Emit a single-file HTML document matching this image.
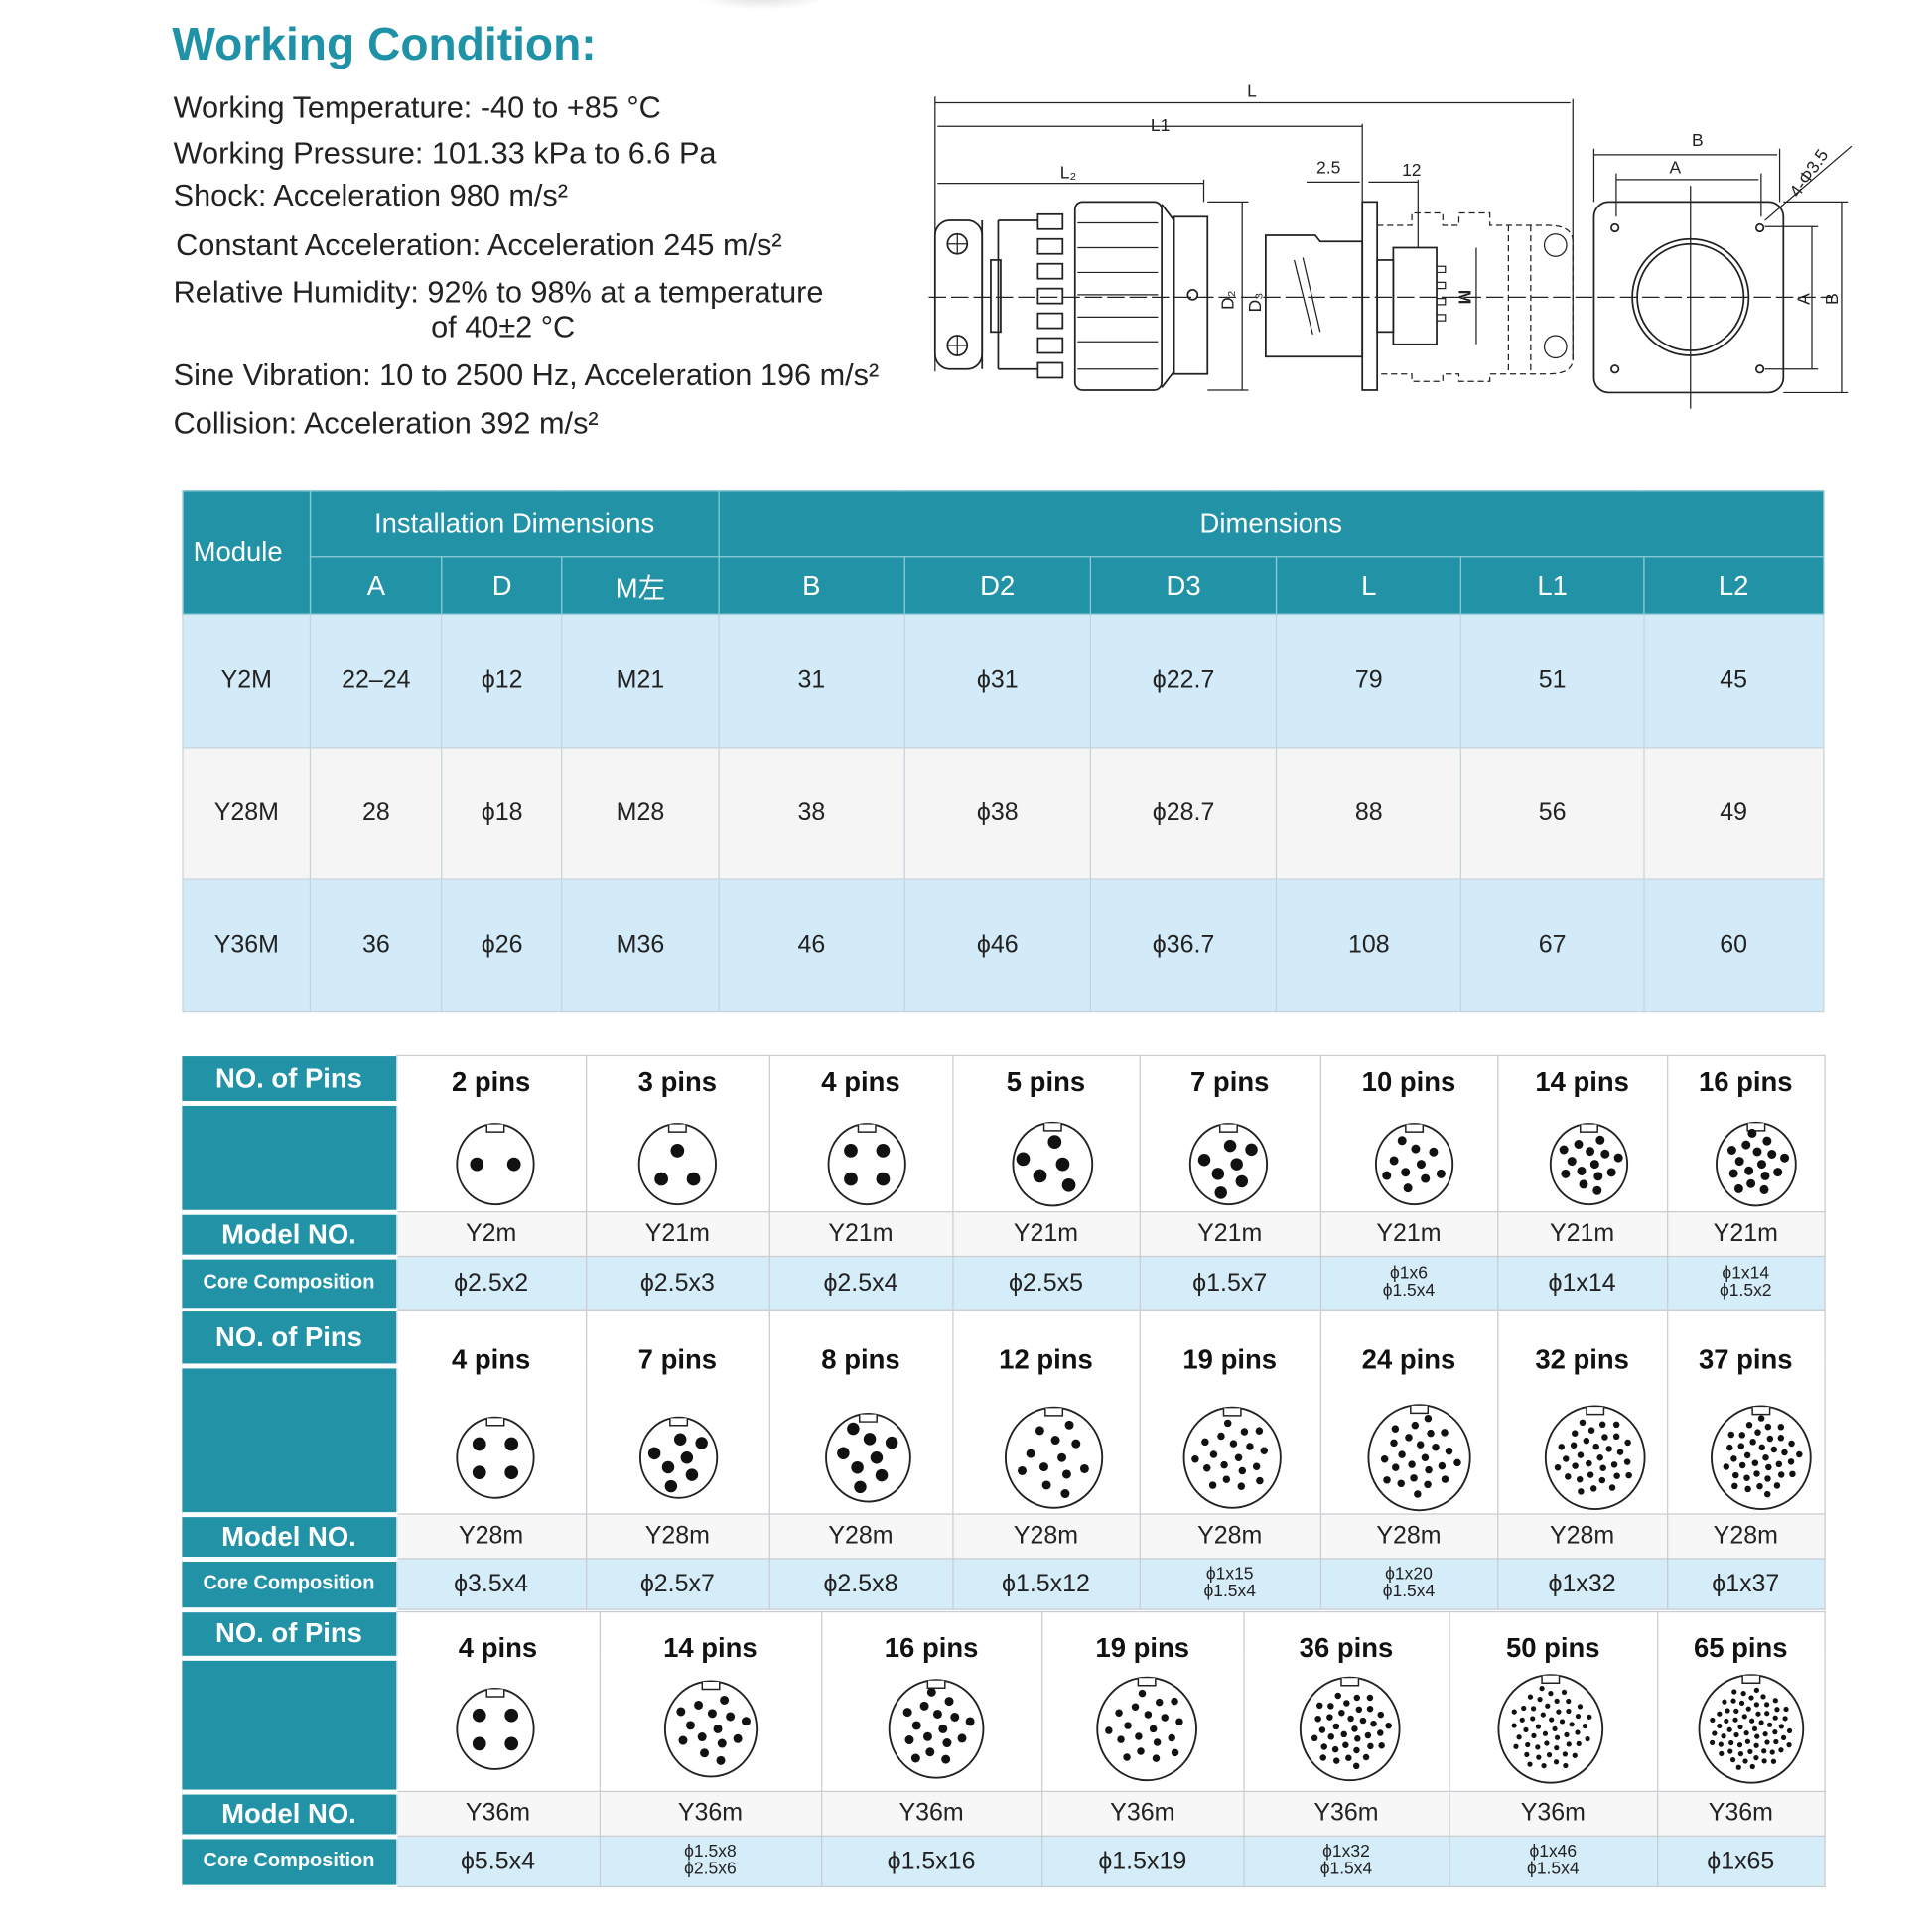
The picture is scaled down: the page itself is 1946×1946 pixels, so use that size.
<!DOCTYPE html>
<html><head><meta charset="utf-8">
<style>
html,body{margin:0;padding:0;background:#fff;}
body{width:1946px;height:1946px;overflow:hidden;position:relative;}
#w{position:absolute;left:0;top:0;width:1560px;height:1560px;transform:scale(1.24744);transform-origin:0 0;font-family:"Liberation Sans","Noto Sans CJK SC",sans-serif;}
.a{position:absolute;white-space:nowrap;}
.t{font-size:24.6px;color:#222;}
table{position:absolute;border-collapse:collapse;table-layout:fixed;}
td{padding:0;text-align:center;vertical-align:middle;}
#t1 td{font-size:20px;color:#222;border:1px solid #c5d3dc;}
#t1 .h{background:#2293a7;color:#fff;font-size:22px;border:1px solid #8ccad6;}
#t1 .r1 td{background:#d3ebf8;}
#t1 .r2 td{background:#f5f5f5;}
#t1 .r3 td{background:#d3ebf8;}
.p td{border:1px solid #c9ccd0;font-size:20px;color:#222;}
.p td.l{background:#2293a7;color:#fff;font-weight:bold;font-size:22px;border:none;border-bottom:4px solid #fff;}
.p td.cc{font-size:16px;}
.p td.pt{font-weight:bold;font-size:22px;color:#111;vertical-align:top;background:#fff;}
.p tr.m td{background:#f7f7f7;}
.p tr.m td.l{background:#2293a7;}
.p tr.c td{background:#d5ecf9;}
.p tr.c td.l{background:#2293a7;}
.sm{font-size:14px;line-height:14px;display:inline-block;}
</style></head><body>
<div id="w">
<div class="a" style="left:560px;top:-14px;width:110px;height:22px;border-radius:50%;background:radial-gradient(#ddd,#fff 70%);"></div>
<div class="a" style="left:139px;top:15px;font-size:37px;font-weight:bold;color:#2092a8;">Working Condition:</div>
<div class="a t" style="left:140px;top:74px;">Working Temperature: -40 to +85 °C</div>
<div class="a t" style="left:140px;top:111px;">Working Pressure: 101.33 kPa to 6.6 Pa</div>
<div class="a t" style="left:140px;top:145px;">Shock: Acceleration 980 m/s²</div>
<div class="a t" style="left:142px;top:185px;">Constant Acceleration: Acceleration 245 m/s²</div>
<div class="a t" style="left:140px;top:223px;">Relative Humidity: 92% to 98% at a temperature</div>
<div class="a t" style="left:348px;top:251px;">of 40±2 °C</div>
<div class="a t" style="left:140px;top:290px;">Sine Vibration: 10 to 2500 Hz, Acceleration 196 m/s²</div>
<div class="a t" style="left:140px;top:329px;">Collision: Acceleration 392 m/s²</div>

<svg class="a" style="left:0;top:0" width="1560" height="400" viewBox="0 0 1560 400" fill="none" stroke="#222" stroke-width="1.4">
<g font-family="Liberation Sans" font-size="14" fill="#222" stroke="none">
<text x="1007" y="78">L</text><text x="929" y="106">L1</text><text x="856" y="144">L₂</text>
<text x="1063" y="140">2.5</text><text x="1132" y="142">12</text>
<text x="1366" y="118">B</text><text x="1348" y="140">A</text>
<text transform="translate(1452,160) rotate(-55)">4-Φ3.5</text>
<text transform="translate(996,250) rotate(-90)">D₂</text>
<text transform="translate(1018,252) rotate(-90)">D₃</text>
<text transform="translate(1178,234) rotate(90)" font-weight="bold">M</text>
<text transform="translate(1461,246) rotate(-90)">A</text>
<text transform="translate(1484,246) rotate(-90)">B</text>
</g>
<g stroke-width="1">
<path d="M755 83H1268M757 102H1100M757 148H972M1055 147H1098M1105 147H1145M1287 125H1435M1305 145H1420M1003 163V315M1022 190V288M1192 200V278M1463 183V298M1487 163V317"/>
<path d="M755 78V300M1100 100V163M972 145V163M1145 145V200M1270 80V290M1287 120V163M1437 120V163M1305 140V175M1422 140V175M975 163H1008M975 315H1008M1440 163H1492M1440 317H1492M1425 183H1468M1425 298H1468M1425 178L1495 118"/>
<path d="M750 240H1480" stroke-dasharray="14 4"/>
<path d="M1365 150V330"/>
</g>
<rect x="755" y="178" width="38" height="120" rx="12"/>
<path d="M793 178V298M806 178V298M806 178H838M806 298H838"/>
<rect x="800" y="210" width="8" height="58"/>
<circle cx="773" cy="197" r="8"/><circle cx="773" cy="279" r="8"/>
<path d="M765 197H781M773 189V205M765 279H781M773 271V287" stroke-width="1"/>
<g><rect x="838" y="173" width="20" height="12"/><rect x="838" y="193" width="20" height="12"/><rect x="838" y="213" width="20" height="12"/><rect x="838" y="233" width="20" height="12"/><rect x="838" y="253" width="20" height="12"/><rect x="838" y="273" width="20" height="12"/><rect x="838" y="293" width="20" height="12"/></g>
<rect x="868" y="163" width="70" height="152" rx="6"/>
<path d="M870 180H935M870 200H935M870 220H935M870 238H935M870 256H935M870 276H935M870 298H935" stroke-width="1"/>
<path d="M938 165L948 178V300L938 313"/>
<rect x="948" y="175" width="27" height="127"/>
<circle cx="963" cy="238" r="4"/>
<path d="M1022 190H1062L1066 195H1100V288H1022Z"/>
<path d="M1045 210L1060 270M1052 208L1066 268" stroke-width="1"/>
<rect x="1100" y="163" width="12" height="152"/>
<rect x="1125" y="200" width="35" height="78"/><rect x="1112" y="210" width="13" height="58"/>
<path d="M1160 215h7v5h-7M1160 228h7v5h-7M1160 241h7v5h-7M1160 254h7v5h-7" stroke-width="1"/>
<path d="M1112 182H1140V172H1165V182H1178V172H1203V182H1250Q1270 182 1270 195V290Q1270 302 1250 302H1203V308H1178V302H1165V308H1140V302H1112M1218 182V302M1236 182V302" stroke-dasharray="5 3" stroke-width="1"/>
<circle cx="1256" cy="198" r="9" stroke-width="1"/><circle cx="1256" cy="280" r="9" stroke-width="1"/>
<rect x="1287" y="163" width="153" height="154" rx="12"/>
<circle cx="1304" cy="184" r="3"/><circle cx="1421" cy="184" r="3"/><circle cx="1304" cy="298" r="3"/><circle cx="1421" cy="298" r="3"/>
<circle cx="1365" cy="240" r="47"/><circle cx="1365" cy="240" r="43"/>
</svg>

<table id="t1" style="left:147px;top:396px;width:1326px;">
<colgroup><col style="width:103px"><col style="width:106px"><col style="width:97px"><col style="width:126px"><col style="width:150px"><col style="width:150px"><col style="width:150px"><col style="width:149px"><col style="width:147px"><col style="width:145px"></colgroup>
<tr style="height:53px"><td class="h" rowspan="2" style="text-align:left;padding-left:8px;">Module</td><td class="h" colspan="3">Installation Dimensions</td><td class="h" colspan="6">Dimensions</td></tr>
<tr style="height:46px"><td class="h">A</td><td class="h">D</td><td class="h">M左</td><td class="h">B</td><td class="h">D2</td><td class="h">D3</td><td class="h">L</td><td class="h">L1</td><td class="h">L2</td></tr>
<tr class="r1" style="height:108px"><td>Y2M</td><td>22–24</td><td>ϕ12</td><td>M21</td><td>31</td><td>ϕ31</td><td>ϕ22.7</td><td>79</td><td>51</td><td>45</td></tr>
<tr class="r2" style="height:106px"><td>Y28M</td><td>28</td><td>ϕ18</td><td>M28</td><td>38</td><td>ϕ38</td><td>ϕ28.7</td><td>88</td><td>56</td><td>49</td></tr>
<tr class="r3" style="height:107px"><td>Y36M</td><td>36</td><td>ϕ26</td><td>M36</td><td>46</td><td>ϕ46</td><td>ϕ36.7</td><td>108</td><td>67</td><td>60</td></tr>
</table>

<table class="p" style="left:147px;top:852px;width:1326px;">
<colgroup><col style="width:173px"><col style="width:153px"><col style="width:148px"><col style="width:148px"><col style="width:151px"><col style="width:146px"><col style="width:143px"><col style="width:137px"><col style="width:127px"></colgroup>
<tr style="height:38px"><td class="l">NO. of Pins</td><td class="pt" rowspan="2" style="padding-top:8px">2 pins</td><td class="pt" rowspan="2" style="padding-top:8px">3 pins</td><td class="pt" rowspan="2" style="padding-top:8px">4 pins</td><td class="pt" rowspan="2" style="padding-top:8px">5 pins</td><td class="pt" rowspan="2" style="padding-top:8px">7 pins</td><td class="pt" rowspan="2" style="padding-top:8px">10 pins</td><td class="pt" rowspan="2" style="padding-top:8px">14 pins</td><td class="pt" rowspan="2" style="padding-top:8px">16 pins</td></tr>
<tr style="height:88px"><td class="l"></td></tr>
<tr class="m" style="height:36px"><td class="l">Model NO.</td><td>Y2m</td><td>Y21m</td><td>Y21m</td><td>Y21m</td><td>Y21m</td><td>Y21m</td><td>Y21m</td><td>Y21m</td></tr>
<tr class="c" style="height:43px"><td class="l cc">Core Composition</td><td>ϕ2.5x2</td><td>ϕ2.5x3</td><td>ϕ2.5x4</td><td>ϕ2.5x5</td><td>ϕ1.5x7</td><td><span class="sm">ϕ1x6<br>ϕ1.5x4</span></td><td>ϕ1x14</td><td><span class="sm">ϕ1x14<br>ϕ1.5x2</span></td></tr>
</table>

<table class="p" style="left:147px;top:1058px;width:1326px;">
<colgroup><col style="width:173px"><col style="width:153px"><col style="width:148px"><col style="width:148px"><col style="width:151px"><col style="width:146px"><col style="width:143px"><col style="width:137px"><col style="width:127px"></colgroup>
<tr style="height:44px"><td class="l">NO. of Pins</td><td class="pt" rowspan="2" style="padding-top:26px">4 pins</td><td class="pt" rowspan="2" style="padding-top:26px">7 pins</td><td class="pt" rowspan="2" style="padding-top:26px">8 pins</td><td class="pt" rowspan="2" style="padding-top:26px">12 pins</td><td class="pt" rowspan="2" style="padding-top:26px">19 pins</td><td class="pt" rowspan="2" style="padding-top:26px">24 pins</td><td class="pt" rowspan="2" style="padding-top:26px">32 pins</td><td class="pt" rowspan="2" style="padding-top:26px">37 pins</td></tr>
<tr style="height:120px"><td class="l"></td></tr>
<tr class="m" style="height:36px"><td class="l">Model NO.</td><td>Y28m</td><td>Y28m</td><td>Y28m</td><td>Y28m</td><td>Y28m</td><td>Y28m</td><td>Y28m</td><td>Y28m</td></tr>
<tr class="c" style="height:41px"><td class="l cc">Core Composition</td><td>ϕ3.5x4</td><td>ϕ2.5x7</td><td>ϕ2.5x8</td><td>ϕ1.5x12</td><td><span class="sm">ϕ1x15<br>ϕ1.5x4</span></td><td><span class="sm">ϕ1x20<br>ϕ1.5x4</span></td><td>ϕ1x32</td><td>ϕ1x37</td></tr>
</table>

<table class="p" style="left:147px;top:1301px;width:1326px;">
<colgroup><col style="width:173px"><col style="width:164px"><col style="width:179px"><col style="width:178px"><col style="width:163px"><col style="width:166px"><col style="width:168px"><col style="width:135px"></colgroup>
<tr style="height:37px"><td class="l">NO. of Pins</td><td class="pt" rowspan="2" style="padding-top:16px">4 pins</td><td class="pt" rowspan="2" style="padding-top:16px">14 pins</td><td class="pt" rowspan="2" style="padding-top:16px">16 pins</td><td class="pt" rowspan="2" style="padding-top:16px">19 pins</td><td class="pt" rowspan="2" style="padding-top:16px">36 pins</td><td class="pt" rowspan="2" style="padding-top:16px">50 pins</td><td class="pt" rowspan="2" style="padding-top:16px">65 pins</td></tr>
<tr style="height:108px"><td class="l"></td></tr>
<tr class="m" style="height:36px"><td class="l">Model NO.</td><td>Y36m</td><td>Y36m</td><td>Y36m</td><td>Y36m</td><td>Y36m</td><td>Y36m</td><td>Y36m</td></tr>
<tr class="c" style="height:41px"><td class="l cc">Core Composition</td><td>ϕ5.5x4</td><td><span class="sm">ϕ1.5x8<br>ϕ2.5x6</span></td><td>ϕ1.5x16</td><td>ϕ1.5x19</td><td><span class="sm">ϕ1x32<br>ϕ1.5x4</span></td><td><span class="sm">ϕ1x46<br>ϕ1.5x4</span></td><td>ϕ1x65</td></tr>
</table>

<svg id="cn" class="a" style="left:0;top:0" width="1560" height="1560"></svg>
</div>
<script>
var s=document.getElementById('cn'),h='';
function c(x,y,r,n){
 h+='<ellipse cx="'+x+'" cy="'+y+'" rx="'+r+'" ry="'+(r+1.5)+'" fill="#fff" stroke="#222" stroke-width="1.5"/>';
 h+='<path d="M'+(x-7)+' '+(y-r-1)+'v6h14v-6" fill="#fff" stroke="#222" stroke-width="1.2"/>';
 var dr=n<=5?5.5:n<=8?5:n<=16?3.6:n<=24?3:n<=37?2.6:2.1;
 if(n==2){h+=d(x-15,y,dr)+d(x+15,y,dr);}
 else if(n==4){h+=d(x-13,y-11,dr)+d(x+13,y-11,dr)+d(x-13,y+12,dr)+d(x+13,y+12,dr);}
 else if(n==3){h+=d(x,y-11,dr)+d(x-13,y+12,dr)+d(x+13,y+12,dr);}
 else{var R=r*0.8;for(var k=0;k<n;k++){var rr=R*Math.sqrt((k+0.5)/n),a=k*2.39996;h+=d(x+rr*Math.cos(a),y+rr*Math.sin(a),dr);}}
}
function d(x,y,r){return '<circle cx="'+x.toFixed(1)+'" cy="'+y.toFixed(1)+'" r="'+r+'" fill="#111"/>';}
var A=[[400,31,2],[547,31,3],[700,31,4],[850,32,5],[992,31,7],[1142,31,10],[1283,31,14],[1418,32,16]];
A.forEach(function(a){c(a[0],940,a[1],a[2]);});
var B=[[400,31,4],[548,31,7],[701,34,8],[851,39,12],[995,39,19],[1146,41,24],[1288,40,32],[1422,40,37]];
B.forEach(function(a){c(a[0],1177,a[1],a[2]);});
var C=[[400,31,4],[574,37,14],[756,38,16],[926,40,19],[1090,40,36],[1252,42,50],[1414,42,65]];
C.forEach(function(a){c(a[0],1396,a[1],a[2]);});
s.innerHTML=h;
</script>
</body></html>
